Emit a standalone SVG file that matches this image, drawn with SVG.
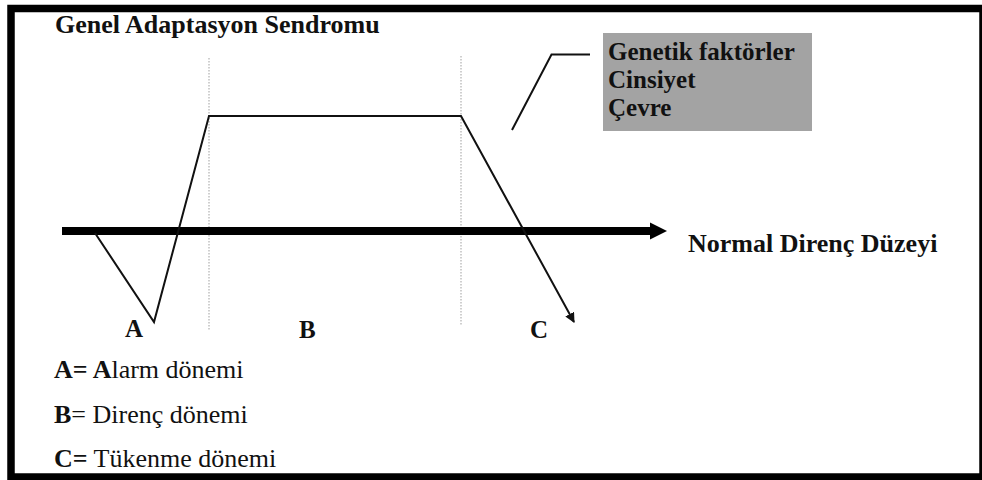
<svg xmlns="http://www.w3.org/2000/svg" width="982" height="480" viewBox="0 0 982 480">
<style>
.b{font-weight:bold;}
.t{font-size:26px;}
.dot{stroke:#b0b0b0;stroke-width:1.2;stroke-dasharray:1.5 1.5;fill:none;}
.curve{stroke:#111;stroke-width:2;fill:none;stroke-linejoin:miter;}
</style>
<defs>
<marker id="tip" viewBox="0 0 10 10" refX="9" refY="5" markerWidth="10" markerHeight="10" markerUnits="userSpaceOnUse" orient="auto">
<path d="M0,0 L10,5 L0,10 z" fill="#111"/>
</marker>
</defs>
<rect x="0" y="0" width="982" height="480" fill="#fff"/>
<rect x="11" y="8.5" width="972" height="468.5" fill="none" stroke="#000" stroke-width="7.5"/>
<g font-family="Liberation Serif, DejaVu Serif, serif" fill="#111">
<g id="title"><text class="b t" x="55" y="33">Genel Adaptasyon Sendromu</text></g>
<g id="factors">
<rect x="603" y="33" width="209" height="98" fill="#a3a3a3"/>
<text class="b" font-size="25" x="608" y="60">Genetik faktörler</text>
<text class="b" font-size="25" x="608" y="88">Cinsiyet</text>
<text class="b" font-size="25" x="608" y="116">Çevre</text>
</g>
<g id="axis-label"><text class="b t" x="688" y="252">Normal Direnç Düzeyi</text></g>
<g id="phase-labels">
<text class="b" font-size="25" x="125" y="337">A</text>
<text class="b" font-size="25" x="299" y="338">B</text>
<text class="b" font-size="25" x="530" y="338">C</text>
</g>
<g id="legend">
<text class="t" x="54" y="378"><tspan class="b">A= A</tspan>larm dönemi</text>
<text class="t" x="54" y="423"><tspan class="b">B</tspan>= Direnç dönemi</text>
<text class="t" x="54" y="467"><tspan class="b">C=</tspan> Tükenme dönemi</text>
</g>
</g>
<g id="dividers">
<line class="dot" x1="209" y1="58" x2="209" y2="330"/>
<line class="dot" x1="461" y1="56" x2="461" y2="325"/>
</g>
<g id="connectors">
<polyline class="curve" stroke-width="1.8" points="512,130 551.5,54.5 590,54.5"/>
<line x1="62" y1="231" x2="651" y2="231" stroke="#000" stroke-width="7.8"/>
<polygon points="650,222.5 667,231 650,239.5" fill="#000"/>
<polyline class="curve" points="95,233 154,322 209,116 461,116 574,322" marker-end="url(#tip)"/>
</g>
</svg>
